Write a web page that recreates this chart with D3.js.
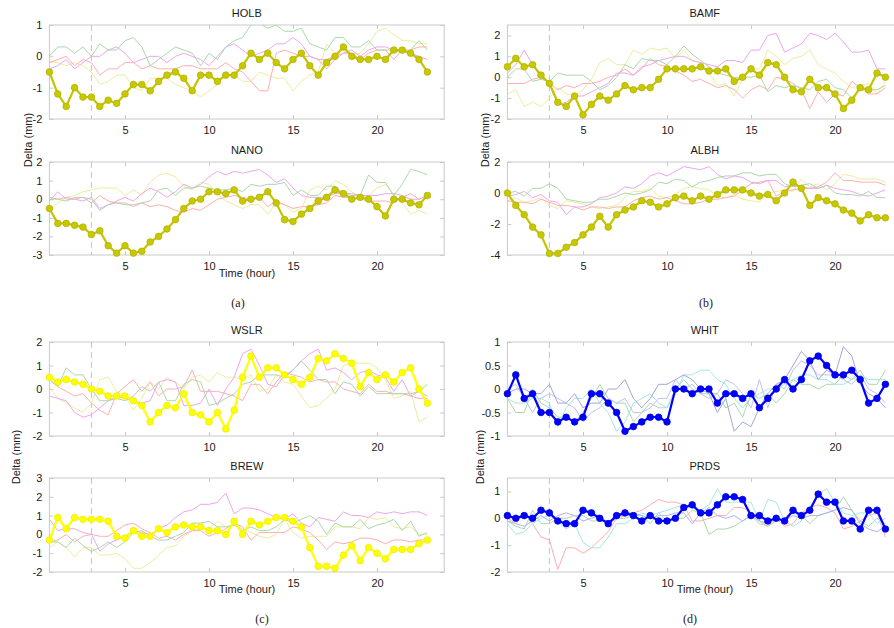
<!DOCTYPE html>
<html>
<head>
<meta charset="utf-8">
<script src="https://cdn.jsdelivr.net/npm/d3@7"></script>
<style>
  html, body { margin: 0; padding: 0; background: #fff; }
  svg { display: block; }
</style>
</head>
<body>
<svg id="chart" width="894" height="628"></svg>
<script>
// Sampling times (hours), every half hour
const hours = [0.5,1,1.5,2,2.5,3,3.5,4,4.5,5, 5.5,6,6.5,7,7.5,8,8.5,9,9.5,10,
  10.5,11,11.5,12,12.5,13,13.5,14,14.5,15, 15.5,16,16.5,17,17.5,18,18.5,19,19.5,20,
  20.5,21,21.5,22,22.5,23];
const xTicks = [5, 10, 15, 20];
const reformTime = 3;

// ---- (a) HOLB ----
const holbMain = [-0.5,-1.2,-1.6,-1.0,-1.3,-1.3,-1.6,-1.4,-1.5,-1.2, -0.9,-0.9,-1.1,-0.8,-0.6,-0.5,-0.7,-1.1,-0.6,-0.6,
  -0.8,-0.6,-0.6,-0.3,0.1,-0.1,0.1,-0.2,-0.4,-0.1, 0.1,-0.3,-0.6,-0.2,0,0.3,0,-0.1,-0.1,0, -0.1,0.2,0.2,0.1,-0.1,-0.5];
const holbGreen = [0,0.3,0.3,0.1,0.3,0,0.4,0.2,0.2,0.5, 0.6,0.3,-0.3,-0.1,0.1,0.3,0.2,0.1,-0.3,0.1,
  -0.1,0.3,0.5,0.6,1.0,1.05,0.9,1.0,0.8,0.8, 0.9,0.4,0.3,0.2,0.6,0.6,0.3,0.3,0.5,0.2, 0.2,0.2,0.1,0.2,0.5,0.2];
const holbMagenta = [-0.4,-0.3,-0.1,-0.4,-0.2,0,0,0.2,0.3,0.1, -0.2,-0.1,0,0,-0.2,0,0.1,0,-0.1,-0.3,
  0,0.3,0.4,0.2,0,0.1,0.2,0.4,0.4,0.6, 0.4,0,-0.1,-0.1,0,0.1,0.2,0,0.2,0.3, 0.3,0.2,0.2,0.1,0,-0.1];
const holbRed = [-0.2,-0.1,0,-0.3,-0.1,-0.2,-0.6,-0.4,-0.4,-0.2, -0.2,-0.4,-0.3,-0.4,-0.4,-0.4,-0.3,-0.3,-0.4,-0.4,
  -0.4,-0.2,-0.4,-0.5,-0.8,-1.1,-1.1,0.1,0.2,0.1, 0,0,-0.1,-0.4,-0.1,0.1,0.1,-0.1,0.1,0.2, 0.2,-0.1,0.2,0.2,0.3,0.3];
const holbYellow = [-0.2,-0.2,-0.3,-0.2,-0.3,-0.5,-0.9,-0.8,-0.6,-0.6, -1.0,-1.1,-0.7,-0.7,-0.7,-0.9,-1.0,-1.1,-1.3,-1.1,
  -0.9,-0.6,-0.6,-0.8,-0.8,-0.5,-0.6,-0.7,-0.7,-1.1, -0.8,-0.6,-0.5,0.4,0.1,0.2,0,0.1,0.4,0.8, 0.9,0.7,0.5,0.5,0.4,0.4];
const holbTicks = [-2, -1, 0, 1];

// ---- (a) NANO ----
const nanoMain = [-0.5,-1.3,-1.3,-1.4,-1.5,-1.9,-1.7,-2.5,-2.9,-2.5, -2.9,-2.8,-2.3,-2.0,-1.6,-1.1,-0.5,-0.1,0,0.4,
  0.4,0.3,0.5,-0.1,0,0.1,0.4,-0.2,-1.1,-1.2, -0.8,-0.5,-0.1,0.1,0.5,0.3,0,0.1,0,-0.4, -0.9,0,0,-0.2,-0.3,0.2];
const nanoGreen = [0,0,-0.1,0.1,0.1,0,-0.6,-0.3,-0.2,-0.3, -0.3,-0.2,-0.1,0.5,0.6,0.2,0.6,0.6,0.7,0.6,
  0.5,0.5,0.6,0.4,0.8,0.7,0.8,0.8,0.9,0.2, 0.5,0.2,0.2,0.7,0.7,0.3,0.2,0.2,1.3,0.9, 0.9,0.2,0.8,1.6,1.5,1.3];
const nanoMagenta = [-0.1,0.4,0,0,-0.1,0.1,-0.5,-0.3,-0.1,0.1, -0.1,0.3,0.6,0.4,0.1,0.4,0.8,0.6,0.8,1.2,
  1.5,1.3,1.5,1.4,1.5,1.6,1.3,0.9,1.1,0.6, 0.2,0.1,0.1,0.1,0.3,0.3,0.3,0.2,0.2,0.2, 0.3,0.3,0.2,0,0,0.2];
const nanoRed = [0.1,0,0.1,0,0.1,-0.2,0.2,-0.1,-0.2,-0.2, -0.4,-0.2,-0.4,-0.3,-0.4,-0.6,-0.7,-0.5,-0.6,-0.3,
  0,0.1,0.2,0.1,0,0.1,-0.4,-0.1,-0.3,-0.5, -0.4,-0.4,-0.3,-0.2,0.2,0.1,0.1,0,-0.1,-0.1, -0.1,-0.2,0.1,0.3,0,0.2];
const nanoYellow = [-0.6,-0.2,0.1,0.2,0.4,0.5,0.6,0.6,0.6,0.2, 0.5,0.2,0.9,1.3,1.4,1.2,0.7,0.5,0.9,0.8,
  0.3,-0.1,-0.3,-0.5,-0.3,-0.3,-0.8,-0.2,-0.3,-0.7, -0.5,0.5,0.7,0.5,1.0,0.8,0.4,0.1,0.2,0.6, 0.8,0.2,-0.2,-0.8,-0.6,-0.8];
const nanoTicks = [-3, -2, -1, 0, 1, 2];

// ---- (b) BAMF ----
const bamfMain = [0.5,0.9,0.5,0.6,0.1,-0.3,-1.2,-1.4,-0.9,-1.8, -1.3,-0.9,-1.1,-0.8,-0.4,-0.6,-0.5,-0.5,-0.1,0.4,
  0.4,0.4,0.4,0.5,0.3,0.3,0.4,-0.2,0,0.4, 0.1,0.7,0.6,0,-0.6,-0.7,-0.1,-0.5,-0.5,-0.8, -1.5,-1.1,-0.5,-0.6,0.2,0];
const bamfMagenta = [0.2,0.6,1.3,0.6,0,-0.3,-1.3,-1.2,-0.9,-0.9, -0.7,-0.5,-0.3,0.2,0.2,0.1,0.5,0.6,0.8,0.9,
  1.0,1.0,0.8,0.7,0.6,0.5,0.8,0.8,0.7,1.3, 1.3,2.0,2.1,1.2,1.4,1.6,2.1,2.0,1.8,2.1, 1.7,1.2,1.2,1.3,0.4,0.4];
const bamfGreen = [0,0.4,0.4,-0.2,-0.1,-0.2,0.2,0.1,0.1,0.1, -0.2,-0.6,-0.4,0,0.6,0.4,0.9,0.8,0.8,0.6,
  1.0,1.5,1.1,0.8,0.5,0.2,0.1,0,0,0, 0.1,-0.7,-0.4,-0.5,-0.4,-0.5,-0.6,-0.2,-0.1,-0.5, -0.6,-1.0,-0.5,-0.6,-0.6,-0.4];
const bamfRed = [-0.3,-0.3,-0.3,-0.1,0,-0.3,-0.6,-0.4,-0.5,-0.3, -0.3,-0.2,0,0.1,0.4,0.1,0.4,0.9,0.6,0.5,
  0.3,0.1,-0.2,-0.1,-0.3,-0.5,-0.4,-0.6,-1.0,-0.6, -0.4,-0.6,0,-0.1,-0.3,-0.6,-1.5,-0.7,-1.2,-0.8, -0.9,-0.2,-0.5,-0.8,-0.8,-0.5];
const bamfYellow = [-0.8,-0.6,-1.4,-1.2,-1.4,-1.0,-0.5,-0.8,-0.9,-0.6, -0.1,0.7,0.9,0.6,0.6,1.3,1.1,1.4,1.3,1.4,
  0.9,1.3,0.8,0.7,0.2,-0.4,-0.3,-0.9,-0.1,0.4, 0.4,1.3,1.0,0.6,0.9,1.0,1.3,0.6,0.4,0.2, -0.2,-0.5,-0.4,-0.3,-0.8,-0.2];
const bamfTicks = [-2, -1, 0, 1, 2];

// ---- (b) ALBH ----
const albhMain = [0,-0.8,-1.4,-2.2,-2.7,-3.9,-3.9,-3.5,-3.2,-2.7, -2.2,-1.5,-2.2,-1.4,-1.1,-0.9,-0.5,-0.6,-0.9,-0.7,
  -0.3,-0.2,-0.5,-0.2,-0.4,-0.1,0.2,0.2,0.2,0, -0.2,-0.1,-0.5,0,0.7,0.3,-0.8,-0.3,-0.5,-0.7, -1.1,-1.3,-1.8,-1.4,-1.6,-1.6];
const albhMagenta = [-0.2,-0.1,0.1,-0.3,-0.1,-0.5,-0.6,-1.4,-0.9,-0.9, -0.7,-0.3,-0.2,0,0.4,0.3,0.6,1.1,1.3,1.1,
  1.4,1.7,1.6,1.5,1.7,1.2,0.9,1.1,1.0,0.7, 0.6,0.8,0.8,0.4,0.5,0.4,0.3,0.3,0.5,0.3, 0.2,0.1,-0.1,-0.2,0,0.2];
const albhGreen = [0,0.1,-0.2,0.3,0.3,0.6,0.3,-0.4,-0.5,-0.6, -0.6,-0.4,-0.4,-0.2,0,-0.1,0,0.2,0.7,0.6,
  0.9,0.8,0.4,0.7,0.8,1.0,1.1,1.1,1.3,1.3, 1.1,1.2,1.2,0.6,0.4,0.5,0.6,0.3,0.5,0, -0.1,-0.1,-0.2,0.1,-0.3,-0.3];
const albhRed = [-0.5,-0.6,-0.6,-0.7,-0.4,-0.6,-0.8,-0.8,-0.9,-1.1, -0.9,-0.9,-1.0,-0.9,-0.9,-0.5,-0.3,-0.2,-0.4,-0.3,
  -0.5,-0.7,-0.7,-0.6,-0.4,-0.4,-0.3,-0.2,0.2,0.6, 0.7,0.8,-0.2,0.1,0.2,0.3,0.3,0.4,0.7,1.3, 0.8,0.8,0.7,0.7,0.7,0.5];
const albhYellow = [-0.5,-0.3,-0.6,-0.5,-0.3,-0.8,-1.0,-0.5,-0.6,-0.7, -0.9,-1.0,-0.9,-0.8,-0.3,0.1,0.1,0.3,-0.2,-0.3,
  -0.1,0.3,0.4,0.3,0.2,-0.2,-0.3,-0.1,-0.4,-0.5, -0.6,0,0.1,0.2,0.1,0.9,0.4,0.6,0.2,0.6, 1.2,1.1,0.9,0.9,0.9,0.7];
const albhTicks = [-4, -2, 0, 2];

// ---- (c) WSLR ----
const wslrMain = [0.5,0.3,0.4,0.3,0.2,0,-0.1,-0.3,-0.3,-0.3, -0.5,-0.7,-1.4,-1.0,-0.7,-0.8,-0.2,-1.0,-1.1,-1.4,
  -1.0,-1.7,-0.9,0.5,1.4,0.5,0.9,0.9,0.6,0.4, 0.2,0.5,1.3,1.2,1.5,1.3,1.1,0.1,0.7,0.4, 0.6,0.3,0.7,0.9,0,-0.6];
const wslrGreen = [0.4,0.1,0.9,0.6,0.6,0,-0.5,-0.5,-0.4,-0.5, -0.3,0.1,-0.1,0.3,-0.5,-0.5,0.2,0.4,0.3,-0.7,
  -0.6,-0.4,-0.2,0.2,0.3,0.6,0.6,0.6,0.5,0.8, 1.2,0.8,0.4,0.4,-0.2,0.3,0.2,-0.3,0.1,-0.2, -0.2,-0.2,-0.2,-0.2,-0.1,0.2];
const wslrMagenta = [-0.3,-0.4,-0.5,-1.0,-1.2,-1.1,-0.8,-0.5,-0.3,-0.4, -0.5,-0.6,-0.5,0.3,0.4,0.3,-0.7,-0.7,-0.6,0,
  -0.7,0,0.5,1.5,1.7,1.0,0.2,0.1,0.6,0.8, 1.2,1.5,1.7,0.8,0.9,0.7,0.4,0.7,0.8,0.6, 0.5,-0.1,0.4,-0.3,-0.4,-0.4];
const wslrRed = [0.4,0.1,-0.1,-0.3,-0.2,-0.6,-0.9,-1.1,-0.2,0.1, 0.4,-0.1,0.3,-0.3,0,0,0.1,0.8,-0.1,-0.1,
  -0.1,-0.2,-0.3,-0.5,0.2,0.2,-0.2,0.3,0.7,0.6, 0.5,0.3,0.4,0.3,0.3,0,-0.1,-0.2,0.2,-0.1, -0.1,-0.2,-0.2,-0.3,-0.1,-0.3];
const wslrYellow = [0.1,-0.4,-0.6,-0.8,-1.0,-0.6,0.4,0.5,-0.1,-0.3, -0.9,-0.4,0.3,0,0.5,0.3,0,0.5,0.6,0.3,
  0.7,0.5,0.5,0.4,0.6,-0.1,0,0.6,0.3,0.2, -0.3,-0.8,-0.7,-0.4,0,1.0,1.1,1.1,1.1,0.9, 0.4,-0.4,-0.3,-0.1,-1.4,-1.2];
const wslrTicks = [-2, -1, 0, 1, 2];

// ---- (c) BREW ----
const brewMain = [-0.3,0.9,0.3,0.9,0.8,0.8,0.8,0.7,-0.1,-0.2, 0.2,-0.1,-0.1,0.3,0.1,0.4,0.5,0.4,0.4,0.2,
  0.2,0,0.7,0,0.7,0.5,0.7,0.9,0.9,0.7, 0.4,-0.7,-1.7,-1.7,-1.8,-1.1,-0.6,-1.4,-0.7,-1.0, -1.3,-0.8,-0.8,-0.8,-0.5,-0.3];
const brewMagenta = [0.8,0.2,0.3,0.3,0.1,0,-0.9,-0.5,-0.3,-0.1, 0.2,0.1,0,0.3,0.5,0.9,1.2,1.3,1.6,1.6,
  1.7,2.2,1.1,1.4,1.4,1.3,1.1,0.9,0.8,1.1, 0.6,0.4,0.9,0.8,0.7,1.2,1.0,1.0,0.9,1.2, 1.1,1.2,1.1,1.2,1.2,1.0];
const brewGreen = [-0.4,-0.4,-0.7,-0.2,-0.6,-0.9,-0.7,-0.4,-0.7,-0.4, 0.1,0.2,-0.1,-0.3,-0.3,-0.1,0.1,0.6,0.6,0.7,
  0.4,0.4,0.5,0.2,0.4,0.2,0.2,0.4,0.8,0.6, 0.8,1.0,0.7,0,0.6,0.4,0.4,0.8,0.3,0.5, 0.6,0.8,0.2,0.7,-0.1,0.1];
const brewRed = [-0.4,-0.3,0,-0.4,-0.1,0,-0.1,-0.1,0.2,0.5, 0.6,0.3,0.1,-0.2,-0.1,-0.3,0,0.2,0.2,-0.1,
  0.1,0.3,0.6,0.4,-0.3,0.1,0.1,0.1,0.1,0.4, 0.3,0.1,-0.3,-0.8,-0.4,-0.5,-0.4,-0.2,-0.2,-0.3, -0.5,-0.3,-0.3,-0.4,-0.3,-0.3];
const brewYellow = [-0.7,-0.4,-0.7,-1.2,-0.7,-0.7,-1.1,-1.1,-1.0,-1.3, -1.8,-1.8,-1.5,-1.1,-0.7,-0.6,-0.1,0.2,0.3,0.3,
  0.7,0.4,0.5,0.3,0.1,-0.1,-0.2,0,0.8,0.1, -0.2,-0.1,-0.1,-0.1,0.4,0.4,0.4,0.3,0.9,0.8, 0.9,0.4,0.3,0.4,0,0];
const brewTicks = [-2, -1, 0, 1, 2, 3];

// ---- (d) WHIT ----
const whitMain = [-0.1,0.3,-0.2,-0.1,-0.5,-0.5,-0.7,-0.6,-0.7,-0.6, -0.1,-0.1,-0.3,-0.5,-0.9,-0.8,-0.7,-0.6,-0.6,-0.7,
  0,0,-0.1,0,0,-0.3,-0.1,-0.1,-0.2,-0.1, -0.4,-0.2,0,0.2,0,0.2,0.6,0.7,0.5,0.3, 0.3,0.4,0.2,-0.3,-0.2,0.1];
const whitSlate = [-0.1,0,0,-0.1,-0.1,0.1,-0.3,-0.3,-0.1,-0.4, -0.3,-0.3,0,0,0.2,-0.2,-0.4,-0.2,0.1,0.1,
  0.2,0.3,0.2,0,-0.1,-0.5,-0.2,-0.9,-0.7,-0.8, -0.4,-0.1,0.1,0.2,0.5,0.8,0.6,0.2,0.4,0.3, 0.9,0.7,0.1,-0.1,-0.2,-0.4];
const whitLavender = [0,0.1,-0.2,-0.5,-0.2,-0.1,-0.2,-0.3,-0.4,-0.7, -0.5,-0.4,-0.2,-0.3,-0.2,-0.5,-0.5,-0.4,-0.2,-0.2,
  0.2,0,0.1,-0.1,-0.2,-0.1,0.2,0.1,-0.1,-0.4, 0.2,-0.4,0.1,0,0.4,0.6,0.5,0.3,0.3,0.3, 0.2,0.1,0.3,0,-0.1,-0.3];
const whitCyan = [-0.2,-0.3,-0.3,-0.2,-0.2,-0.3,-0.8,-0.4,-0.2,-0.2, 0,-0.3,-0.5,-0.9,-0.7,-0.3,-0.2,-0.1,-0.3,-0.4,
  -0.1,0.3,0.3,0.4,0.4,0.2,0.1,-0.2,-0.4,-0.2, -0.1,0,0,0.1,0.2,0.3,0.3,0.2,0.2,0.1, 0.1,0.2,0.3,0.2,0.2,0.2];
const whitGreen = [-0.2,-0.5,-0.5,0,-0.3,-0.4,-0.6,-0.6,-0.7,-0.5, -0.2,0.1,-0.2,-0.3,-0.3,-0.7,-0.5,-0.3,-0.4,-0.4,
  0,0.2,0,-0.1,-0.1,-0.1,-0.4,-0.3,-0.6,-0.1, -0.2,-0.1,-0.3,-0.1,0.2,0.1,0.1,0,0.1,0.1, 0.3,0.2,0.4,0.1,0.1,0.4];
const whitTicks = [-1, -0.5, 0, 0.5, 1];

// ---- (d) PRDS ----
const prdsMain = [0.1,0,0.1,0,0.3,0.2,-0.1,-0.2,-0.2,0.3, 0.2,0,-0.2,0.1,0.2,0.1,-0.1,0.1,-0.1,-0.1,
  0,0.4,0.5,0.2,0.2,0.5,0.8,0.8,0.7,0.1, 0.1,-0.1,0,-0.1,0.3,0.1,0.3,0.9,0.6,0.6, -0.1,-0.1,-0.4,0.3,0.3,-0.4];
const prdsRed = [0,-0.2,0.2,-0.2,-0.7,-0.8,-1.9,-1.1,-1.1,-1.3, -1.1,-0.8,-0.5,0,0.1,0.2,0.3,0.5,0.7,0.6,
  0.6,0.5,-0.1,-0.1,0,0.1,0.1,0.4,0.4,0.2, -0.1,-0.3,0,-0.3,-0.2,0.2,0.4,0.5,0.4,0.2, -0.4,-0.3,-0.1,0.1,0.2,-0.7];
const prdsCyan = [-0.2,-0.6,-0.5,-0.2,0,0.1,-0.1,-0.4,-0.2,-0.9, -1.1,-1.1,-0.7,-0.2,-0.2,0,0.2,0.1,0.2,0.3,
  0.4,0.5,0.4,0.3,0.5,1.1,0.6,0.6,0.6,0.6, -0.1,0.7,0.6,-0.1,-0.3,-0.1,0.4,0.9,1.1,0.6, 0.2,0.1,0.2,0.2,-0.2,0];
const prdsGreen = [-0.1,-0.3,-0.4,0.3,-0.2,-0.2,0,0,0.1,0.1, -0.1,-0.1,-0.1,0,0,0.1,0.1,-0.2,0.2,-0.1,
  0,0,0.3,0.2,-0.6,-0.4,-0.4,-0.3,-0.1,0.1, -0.2,-0.3,-0.1,0,0.2,0.1,-0.2,0.1,0.2,0.3, 0.8,0.3,-0.1,-0.3,0,-0.2];
const prdsBlue = [-0.1,-0.2,-0.3,-0.1,0.1,-0.1,0.1,0.2,0.1,-0.1, 0,0.1,-0.2,0,0.2,0.2,0.1,0,0.1,0.1,
  0.2,0.2,-0.2,0.2,0.4,0.1,0,0.1,-0.1,0.1, -0.1,-0.2,0,-0.1,0.1,0,0.1,0.1,0.2,0.3, 0.4,0.3,-0.2,-0.4,-0.5,-0.3];
const prdsTicks = [-2, -1, 0, 1];

// Thin-line palettes
const cGreen = "#a9d9a9", cMagenta = "#eda6ed", cRed = "#ffaeae", cYellow = "#ecec9e";
const cSlate = "#a4a4dc", cLavender = "#c0c0f2", cCyan = "#a4e6e6", cBlue = "#b0b0f4";

// Station panels: which arrays go where
const panels = [
  { name: "HOLB", col: 0, row: 0, domain: [-2, 1], ticks: holbTicks, main: holbMain, style: "olive",
    others: [[holbYellow, cYellow], [holbRed, cRed], [holbMagenta, cMagenta], [holbGreen, cGreen]] },
  { name: "NANO", col: 0, row: 1, domain: [-3, 2], ticks: nanoTicks, main: nanoMain, style: "olive",
    others: [[nanoYellow, cYellow], [nanoRed, cRed], [nanoMagenta, cMagenta], [nanoGreen, cGreen]] },
  { name: "BAMF", col: 1, row: 0, domain: [-2, 2.5], ticks: bamfTicks, main: bamfMain, style: "olive",
    others: [[bamfYellow, cYellow], [bamfRed, cRed], [bamfMagenta, cMagenta], [bamfGreen, cGreen]] },
  { name: "ALBH", col: 1, row: 1, domain: [-4, 2], ticks: albhTicks, main: albhMain, style: "olive",
    others: [[albhYellow, cYellow], [albhRed, cRed], [albhMagenta, cMagenta], [albhGreen, cGreen]] },
  { name: "WSLR", col: 0, row: 2, domain: [-2, 2], ticks: wslrTicks, main: wslrMain, style: "yellow",
    others: [[wslrYellow, cYellow], [wslrRed, cRed], [wslrMagenta, cMagenta], [wslrGreen, cGreen]] },
  { name: "BREW", col: 0, row: 3, domain: [-2, 3], ticks: brewTicks, main: brewMain, style: "yellow",
    others: [[brewYellow, cYellow], [brewRed, cRed], [brewMagenta, cMagenta], [brewGreen, cGreen]] },
  { name: "WHIT", col: 1, row: 2, domain: [-1, 1], ticks: whitTicks, main: whitMain, style: "blue",
    others: [[whitGreen, cGreen], [whitCyan, cCyan], [whitLavender, cLavender], [whitSlate, cSlate]] },
  { name: "PRDS", col: 1, row: 3, domain: [-2, 1.5], ticks: prdsTicks, main: prdsMain, style: "blue",
    others: [[prdsRed, cRed], [prdsGreen, cGreen], [prdsCyan, cCyan], [prdsBlue, cBlue]] }
];

const mainStyles = {
  olive:  { line: "#c4c400", fill: "#c8c800", edge: "#b4b400" },
  yellow: { line: "#ffff00", fill: "#ffff00", edge: "#eeee00" },
  blue:   { line: "#0000ff", fill: "#0000ff", edge: "#0000e0" }
};

// Page layout
const colRange = [[49.4, 444.2], [507.4, 902.2]];
const rowRange = [[25, 119], [162, 255], [342, 436], [478, 572]];
const boxColor = "#c9c9c9";
const sansFont = "'Liberation Sans', Arial, Helvetica, sans-serif";
const serifFont = "'Liberation Serif', 'Times New Roman', serif";

const svg = d3.select("#chart");
const defs = svg.append("defs");

panels.forEach((p, i) => {
  const [x0, x1] = colRange[p.col];
  const [y0, y1] = rowRange[p.row];
  const x = d3.scaleLinear().domain([0.5, 24]).range([x0, x1]);
  const y = d3.scaleLinear().domain(p.domain).range([y1, y0]);

  const g = svg.append("g");
  const clipId = "clip" + i;
  defs.append("clipPath").attr("id", clipId)
    .append("rect").attr("x", x0).attr("y", y0).attr("width", x1 - x0).attr("height", y1 - y0);

  // box with inward ticks on all sides
  g.append("rect").attr("x", x0).attr("y", y0).attr("width", x1 - x0).attr("height", y1 - y0)
    .attr("fill", "none").attr("stroke", boxColor).attr("stroke-width", 1);

  const axB = d3.axisBottom(x).tickValues(xTicks).tickSizeInner(-4).tickSizeOuter(0).tickPadding(7);
  const axT = d3.axisTop(x).tickValues(xTicks).tickSizeInner(-4).tickSizeOuter(0).tickFormat("");
  const axL = d3.axisLeft(y).tickValues(p.ticks).tickSizeInner(-4).tickSizeOuter(0).tickPadding(7)
    .tickFormat(d => String(d));
  const axR = d3.axisRight(y).tickValues(p.ticks).tickSizeInner(-4).tickSizeOuter(0).tickFormat("");

  [[axB, `translate(0,${y1})`], [axT, `translate(0,${y0})`], [axL, `translate(${x0},0)`], [axR, `translate(${x1},0)`]]
    .forEach(([ax, tr]) => {
      const a = g.append("g").attr("transform", tr).call(ax);
      a.select(".domain").remove();
      a.selectAll(".tick line").attr("stroke", boxColor);
      a.selectAll(".tick text").attr("fill", "#1a1a1a").attr("font-family", sansFont).attr("font-size", 11);
    });

  const inner = g.append("g").attr("clip-path", `url(#${clipId})`);

  // dashed marker at the reference hour
  inner.append("line")
    .attr("x1", x(reformTime)).attr("x2", x(reformTime)).attr("y1", y0).attr("y2", y1)
    .attr("stroke", "#c4c4c4").attr("stroke-width", 1).attr("stroke-dasharray", "6,4");

  const line = d3.line().x((d, k) => x(hours[k])).y(d => y(d));

  p.others.forEach(([vals, col]) => {
    inner.append("path").datum(vals).attr("d", line)
      .attr("fill", "none").attr("stroke", col).attr("stroke-width", 1);
  });

  // highlighted station: drawn on top, markers not clipped at the frame
  const st = mainStyles[p.style];
  const top = g.append("g");
  top.append("path").datum(p.main).attr("d", line)
    .attr("fill", "none").attr("stroke", st.line).attr("stroke-width", 2.2)
    .attr("stroke-linejoin", "round");
  top.selectAll("circle.pt").data(p.main).enter().append("circle")
    .attr("class", "pt")
    .attr("cx", (d, k) => x(hours[k])).attr("cy", d => y(d)).attr("r", 3.3)
    .attr("fill", st.fill).attr("stroke", st.edge).attr("stroke-width", 0.8);

  // station title
  svg.append("text").attr("x", (x0 + x1) / 2).attr("y", y0 - 8)
    .attr("text-anchor", "middle").attr("font-family", sansFont).attr("font-size", 11)
    .attr("fill", "#1a1a1a").text(p.name);
});

// shared axis labels
const yLabels = [[29, 140], [486, 140], [17, 457], [481, 457]];
yLabels.forEach(([lx, ly]) => {
  svg.append("text").attr("transform", `translate(${lx},${ly}) rotate(-90)`)
    .attr("text-anchor", "middle").attr("dominant-baseline", "middle")
    .attr("font-family", sansFont).attr("font-size", 11).attr("fill", "#1a1a1a")
    .text("Delta (mm)");
});

const xLabels = [[247, 277], [247, 593], [705, 593]];
xLabels.forEach(([lx, ly]) => {
  svg.append("text").attr("x", lx).attr("y", ly).attr("text-anchor", "middle")
    .attr("font-family", sansFont).attr("font-size", 11).attr("fill", "#1a1a1a")
    .text("Time (hour)");
});

const captions = [["(a)", 238, 307], ["(b)", 706, 307], ["(c)", 262, 623], ["(d)", 690, 623]];
captions.forEach(([t, cx, cy]) => {
  svg.append("text").attr("x", cx).attr("y", cy).attr("text-anchor", "middle")
    .attr("font-family", serifFont).attr("font-size", 12).attr("fill", "#1a1a1a").text(t);
});
</script>
</body>
</html>
